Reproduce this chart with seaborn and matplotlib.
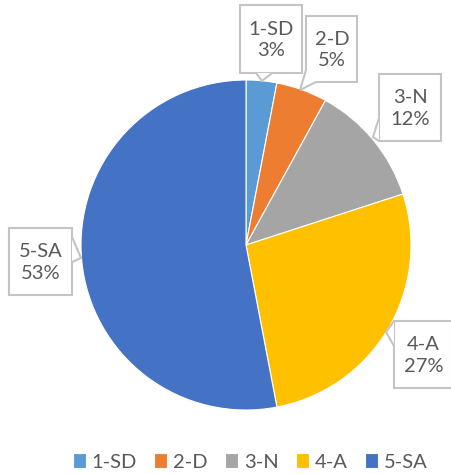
import matplotlib.pyplot as plt
import seaborn as sns
from matplotlib.patches import Rectangle, Polygon

sns.set_theme(style="white")
plt.rcParams['font.family'] = ['Lato', 'DejaVu Sans']

categories = ['1-SD', '2-D', '3-N', '4-A', '5-SA']
percents = [3, 5, 12, 27, 53]
colors = ['#5B9BD5', '#ED7D31', '#A5A5A5', '#FFC000', '#4472C4']
text_color = '#595959'
edge_gray = '#C4C4C4'

W, H = 451, 474
fig = plt.figure(figsize=(W / 100, H / 100), dpi=100)
ax = fig.add_axes([0, 0, 1, 1])

# pie in pixel coords (y axis flipped afterwards, so start at -90 and go "counterclock")
cx, cy, r = 246, 245, 165
wedges, _ = ax.pie(percents, colors=colors, startangle=-90, counterclock=True,
                   center=(cx, cy), radius=r, frame=True,
                   wedgeprops=dict(linewidth=0.8, edgecolor='white'))
ax.set_xlim(0, W)
ax.set_ylim(H, 0)
ax.set_aspect('equal')
ax.axis('off')

# callouts: box (x0, y0, x1, y1) and tail (base, tip, base) in pixel coords
callouts = {
    '1-SD': ((240, 5, 302, 73), [(256, 73), (262, 81), (272, 73)]),
    '2-D': ((306, 16, 357, 82), [(306, 70), (300, 90), (316, 82)]),
    '3-N': ((379, 74, 441, 141), [(379, 118), (373, 137), (379, 141)]),
    '4-A': ((394, 321, 452, 388), [(394, 321), (386, 332), (394, 346)]),
    '5-SA': ((9, 228, 72, 295), [(72, 237), (81, 258), (72, 262)]),
}

for cat, pct in zip(categories, percents):
    (x0, y0, x1, y1), tail = callouts[cat]
    ax.add_patch(Rectangle((x0, y0), x1 - x0, y1 - y0, facecolor='white',
                           edgecolor=edge_gray, linewidth=1.5, zorder=3))
    ax.add_patch(Polygon(tail, closed=True, facecolor='white', edgecolor='none', zorder=4))
    ax.plot([p[0] for p in tail], [p[1] for p in tail], color=edge_gray,
            linewidth=1.5, zorder=5, solid_joinstyle='miter')
    ax.text((x0 + x1) / 2 + 0.5, (y0 + y1) / 2 + 1, f'{cat}\n{pct}%', ha='center', va='center',
            fontsize=14.5, color=text_color, linespacing=1.3, zorder=6)

fig.legend(wedges, categories, loc='center', bbox_to_anchor=(0.555, 1 - 462 / H),
           ncol=5, frameon=False, fontsize=14.5, labelcolor=text_color,
           handlelength=0.65, handleheight=0.75, handletextpad=0.3, columnspacing=0.85)

fig.savefig('out.png', dpi=100)
